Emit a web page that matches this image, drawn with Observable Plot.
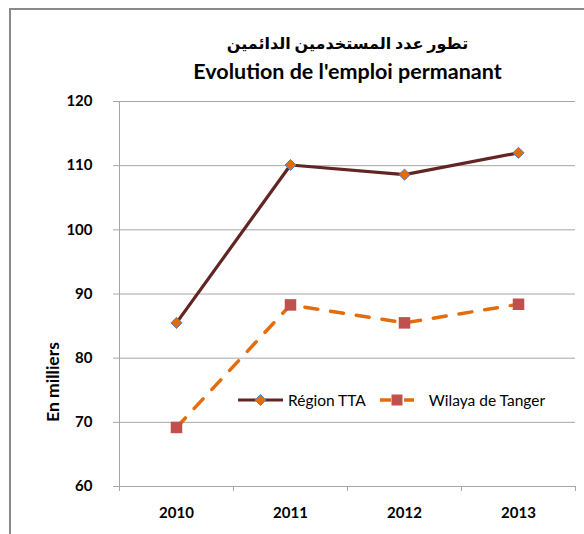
<!DOCTYPE html>
<html>
<head>
<meta charset="utf-8">
<script src="https://cdn.jsdelivr.net/npm/d3@7"></script>
<script src="https://cdn.jsdelivr.net/npm/@observablehq/plot@0.6"></script>
<style>
  html, body { margin: 0; padding: 0; background: #fff; overflow: hidden; }
  #wrap { position: relative; width: 584px; height: 534px; }
  #border { position: absolute; left: 9px; top: 8px; width: 700px; height: 700px; border: 2px solid #8a8a8a; box-sizing: border-box; pointer-events: none; }
  #legend { position: absolute; top: 390px; left: 237px; height: 20px; display: flex; align-items: center; font: 15.5px Lato, "DejaVu Sans", sans-serif; color: #000; }
  #legend svg { display: block; }
</style>
</head>
<body>
<div id="wrap">
  <div id="border"></div>
  <div id="chart"></div>
  <div id="legend"></div>
</div>
<script>
const years = [2010, 2011, 2012, 2013];
const regionTTA = [85.5, 110.1, 108.6, 112.0];
const wilayaTanger = [69.2, 88.3, 85.5, 88.4];
const yTicks = [60, 70, 80, 90, 100, 110, 120];
const titleAr = "تطور عدد المستخدمين الدائمين";
const titleFr = "Evolution de l'emploi permanant";
const yLabel = "En milliers";
const seriesNames = ["Région TTA", "Wilaya de Tanger"];

const colTTA = "#632523", colTTAMarker = "#E36C09", colTTAEdge = "#4F81BD";
const colWil = "#E46C0A", colWilMarker = "#C0504D";
const gridCol = "#a6a6a6";
const font = "Lato, 'DejaVu Sans', sans-serif";

const bounds = [years[0] - 0.5, ...years.map(y => y + 0.5)];
const ttaData = years.map((y, i) => ({year: y, value: regionTTA[i]}));
const wilData = years.map((y, i) => ({year: y, value: wilayaTanger[i]}));

const chart = Plot.plot({
  width: 584,
  height: 534,
  marginTop: 101,
  marginBottom: 48,
  marginLeft: 119,
  marginRight: 9,
  style: {fontFamily: font, fontSize: "15px", color: "#000", background: "transparent"},
  x: {type: "linear", domain: [bounds[0], bounds[bounds.length - 1]]},
  y: {domain: [60, 120]},
  marks: [
    Plot.gridY(yTicks, {stroke: gridCol, strokeOpacity: 1, strokeWidth: 1}),
    Plot.ruleX([bounds[0]], {stroke: gridCol, strokeWidth: 1}),
    Plot.axisY(yTicks, {tickSize: 6, tickPadding: 21, stroke: gridCol, fontWeight: "bold", fontSize: 15, fill: "#000", label: null}),
    Plot.axisX(bounds, {tickSize: 5, stroke: gridCol, tickFormat: () => "", label: null}),
    Plot.axisX(years, {tickSize: 0, tickPadding: 21, tickFormat: d => String(d), fontWeight: "bold", fontSize: 15, fill: "#000", label: null}),
    Plot.line(ttaData, {x: "year", y: "value", stroke: colTTA, strokeWidth: 3.2}),
    Plot.line(wilData, {x: "year", y: "value", stroke: colWil, strokeWidth: 3.5, strokeDasharray: "13,13", strokeLinecap: "round"}),
    Plot.dot(ttaData, {x: "year", y: "value", symbol: "diamond2", r: 5, fill: colTTAMarker, stroke: colTTAEdge, strokeWidth: 1}),
    Plot.dot(wilData, {x: "year", y: "value", symbol: "square", r: 6.5, fill: colWilMarker, stroke: "none"}),
    Plot.text([titleAr], {frameAnchor: "top", dy: -58, lineAnchor: "middle", fontWeight: "bold", fontSize: 16, fill: "#000"}),
    Plot.text([titleFr], {frameAnchor: "top", dy: -29, lineAnchor: "middle", fontWeight: "bold", fontSize: 21.5, fill: "#000"}),
    Plot.text([yLabel], {frameAnchor: "left", textAnchor: "middle", dx: -66, dy: 88, rotate: -90, fontWeight: "bold", fontSize: 17.5, fill: "#000"})
  ]
});
document.getElementById("chart").appendChild(chart);

// legend
const legend = document.getElementById("legend");
function swatch(kind) {
  const ns = "http://www.w3.org/2000/svg";
  const svg = document.createElementNS(ns, "svg");
  const w = kind === "tta" ? 47 : 36;
  svg.setAttribute("width", w); svg.setAttribute("height", 20);
  const line = document.createElementNS(ns, "line");
  line.setAttribute("x1", 1); line.setAttribute("x2", w - 1);
  line.setAttribute("y1", 10); line.setAttribute("y2", 10);
  if (kind === "tta") {
    line.setAttribute("stroke", colTTA); line.setAttribute("stroke-width", 3.2);
    svg.appendChild(line);
    const d = document.createElementNS(ns, "path");
    const c = w / 2, r = 5.5;
    d.setAttribute("d", `M${c},${10 - r}L${c + r},10L${c},${10 + r}L${c - r},10Z`);
    d.setAttribute("fill", colTTAMarker); d.setAttribute("stroke", colTTAEdge); d.setAttribute("stroke-width", 1);
    svg.appendChild(d);
  } else {
    line.setAttribute("stroke", colWil); line.setAttribute("stroke-width", 3.5);
    line.setAttribute("stroke-dasharray", "11,13");
    svg.appendChild(line);
    const s = document.createElementNS(ns, "rect");
    s.setAttribute("x", w / 2 - 5.5); s.setAttribute("y", 4.5);
    s.setAttribute("width", 11); s.setAttribute("height", 11);
    s.setAttribute("fill", colWilMarker);
    svg.appendChild(s);
  }
  return svg;
}
function item(kind, label, gap, after) {
  const el = document.createElement("div");
  el.style.display = "flex"; el.style.alignItems = "center";
  el.style.marginRight = after + "px";
  el.appendChild(swatch(kind));
  const t = document.createElement("span");
  t.textContent = label; t.style.marginLeft = gap + "px";
  el.appendChild(t);
  return el;
}
legend.appendChild(item("tta", seriesNames[0], 4, 13));
legend.appendChild(item("wil", seriesNames[1], 14, 0));
</script>
</body>
</html>
